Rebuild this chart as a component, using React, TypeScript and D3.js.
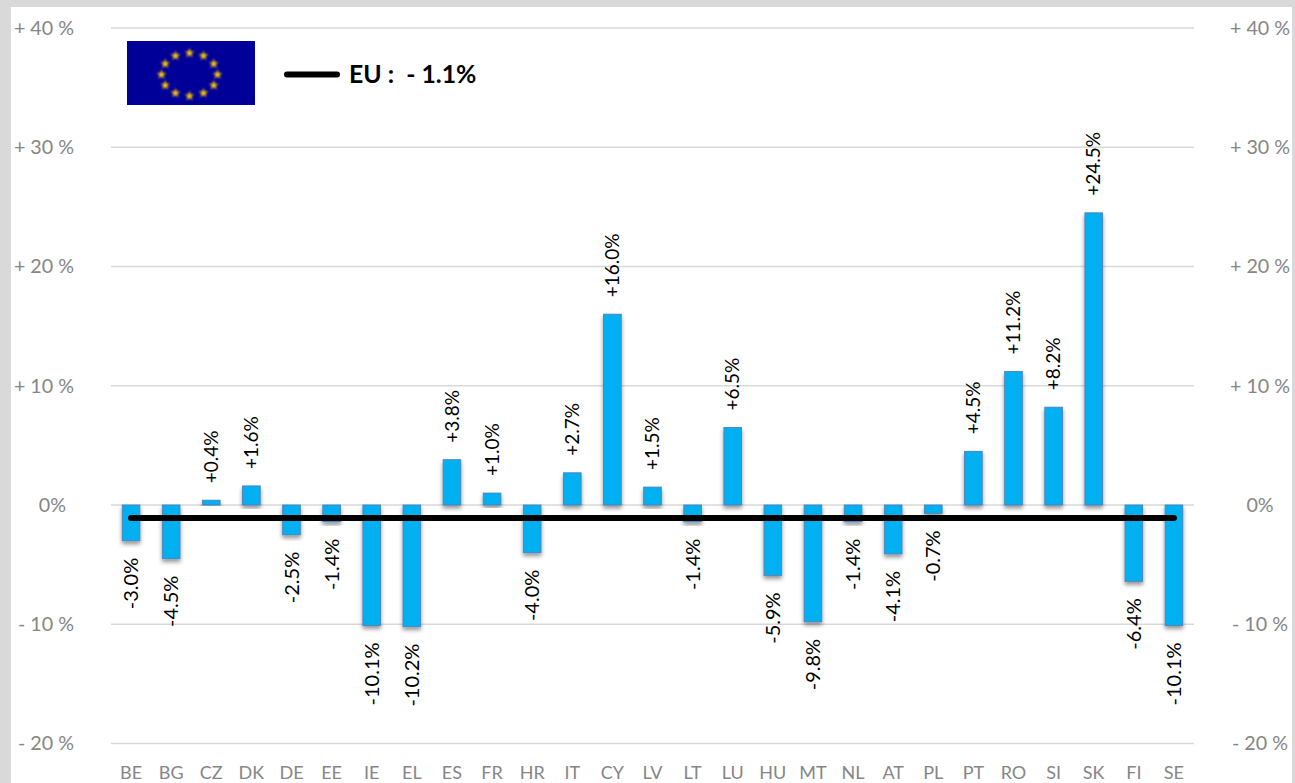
import React from "react";
import * as d3 from "d3";

const categories = ["BE","BG","CZ","DK","DE","EE","IE","EL","ES","FR","HR","IT","CY","LV","LT","LU","HU","MT","NL","AT","PL","PT","RO","SI","SK","FI","SE"];
const values = [-3.0,-4.5,0.4,1.6,-2.5,-1.4,-10.1,-10.2,3.8,1.0,-4.0,2.7,16.0,1.5,-1.4,6.5,-5.9,-9.8,-1.4,-4.1,-0.7,4.5,11.2,8.2,24.5,-6.4,-10.1];
const euValue = -1.1;
const ticks = [40,30,20,10,0,-10,-20];
const euLabel = "EU :  - 1.1%";

const FONT = "Lato, 'Open Sans', sans-serif";
const GRID = "#d9d9d9";
const AXIS_TEXT = "#868686";

const fmtTick = (t: number) => (t === 0 ? "0%" : `${t > 0 ? "+" : "-"} ${Math.abs(t)} %`);
const fmtVal = (v: number) => `${v > 0 ? "+" : "-"}${Math.abs(v).toFixed(1)}%`;

export default function App() {
  const y = d3.scaleLinear().domain([-20, 40]).range([743.5, 28]);
  const x = d3.scaleBand<string>().domain(categories).range([111, 1194]).paddingInner(0.56).paddingOuter(0.28);
  const starPath = d3.symbol(d3.symbolStar, 30)() as string;
  const euLine = d3.line<number>().x((d) => d).y(() => y(euValue));
  const first = (x(categories[0]) as number) + x.bandwidth() / 2;
  const last = (x(categories[categories.length - 1]) as number) + x.bandwidth() / 2;
  return (
    <svg width={1295} height={783} style={{ position: "fixed", left: 0, top: 0, display: "block" }} fontFamily={FONT}>
      <defs>
        <filter id="shadow" x="-40%" y="-10%" width="180%" height="130%">
          <feDropShadow dx="0" dy="3" stdDeviation="2.2" floodColor="#000" floodOpacity="0.42" />
        </filter>
        <filter id="soft"><feGaussianBlur stdDeviation="0.8" /></filter>
      </defs>
      <rect width={1295} height={783} fill="#d9d9d9" />
      <rect x={11} y={7} width={1281} height={776} fill="#fff" />
      {ticks.map((t) => (
        <g key={t}>
          <line x1={111} x2={1194} y1={y(t)} y2={y(t)} stroke={GRID} strokeWidth={1.3} />
          <text x={t === 0 ? 66 : 74} y={y(t)} dy="0.35em" textAnchor="end" fontSize={19.7} fill={AXIS_TEXT}>{fmtTick(t)}</text>
          <text x={1260} y={y(t)} dy="0.35em" textAnchor="middle" fontSize={19.7} fill={AXIS_TEXT}>{fmtTick(t)}</text>
        </g>
      ))}
      {categories.map((c, i) => {
        const v = values[i];
        const bx = x(c) as number;
        const cx = bx + x.bandwidth() / 2;
        const top = y(Math.max(v, 0));
        const bottom = y(Math.min(v, 0));
        const ly = v > 0 ? top - 17 : bottom + 17;
        return (
          <g key={c}>
            <rect x={bx} y={top} width={x.bandwidth()} height={bottom - top} fill="#00b0f0" stroke="#4f81bd" strokeWidth={0.9} filter="url(#shadow)" />
            <text transform={`translate(${cx},${ly}) rotate(-90)`} dy="0.35em" textAnchor={v > 0 ? "start" : "end"} fontSize={v > 0 ? 19 : 20} fill="#000">{fmtVal(v)}</text>
            <text x={cx} y={773} dy="0.35em" textAnchor="middle" fontSize={18} fill={AXIS_TEXT}>{c}</text>
          </g>
        );
      })}
      <path d={euLine([first, last]) as string} stroke="#000" strokeWidth={6} strokeLinecap="round" fill="none" />
      <rect x={127} y={41} width={128} height={64} fill="#000099" />
      <g filter="url(#soft)">
        {d3.range(12).map((i) => {
          const a = (i * Math.PI) / 6;
          return <path key={i} d={starPath} fill="#ffcc00" transform={`translate(${189.5 + 28 * Math.sin(a)},${74.5 - 21.5 * Math.cos(a)})`} />;
        })}
      </g>
      <line x1={287} x2={337} y1={74.5} y2={74.5} stroke="#000" strokeWidth={6} strokeLinecap="round" />
      <text x={349} y={74} dy="0.35em" fontSize={24.8} fontWeight={700} fill="#000" style={{ whiteSpace: "pre" }}>{euLabel}</text>
    </svg>
  );
}
